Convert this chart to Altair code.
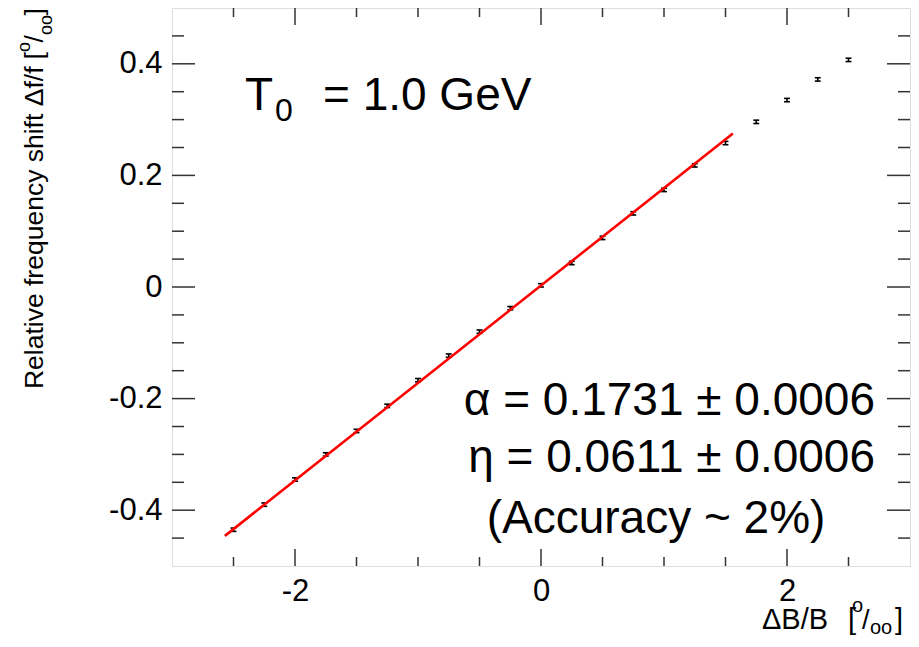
import altair as alt
import pandas as pd

# ---- data ----
x_vals = [-2.5, -2.25, -2.0, -1.75, -1.5, -1.25, -1.0, -0.75, -0.5, -0.25, 0.0,
          0.25, 0.5, 0.75, 1.0, 1.25, 1.5, 1.75, 2.0, 2.25, 2.5]
y_vals = [-0.435, -0.390, -0.345, -0.300, -0.258, -0.213, -0.167, -0.123, -0.080, -0.038, 0.003,
          0.043, 0.088, 0.132, 0.174, 0.218, 0.258, 0.296, 0.335, 0.372, 0.407]
y_err = [0.003, 0.003, 0.003, 0.003, 0.003, 0.003, 0.003, 0.003, 0.003, 0.003, 0.003,
         0.003, 0.003, 0.003, 0.003, 0.003, 0.003, 0.003, 0.003, 0.003, 0.003]
fit_x = [-2.57, 1.56]
fit_y = [-0.446, 0.275]

x_major = [-2, 0, 2]
x_minor = [-2.5, -1.5, -1.0, -0.5, 0.5, 1.0, 1.5, 2.5]
y_major = [-0.4, -0.2, 0, 0.2, 0.4]
y_minor = [-0.45, -0.35, -0.3, -0.25, -0.15, -0.1, -0.05, 0.05, 0.1, 0.15, 0.25, 0.3, 0.35, 0.45]

x_title_parts = ["ΔB/B", "[", "o", "/", "oo", "]"]
y_title_parts = ["Relative frequency shift Δf/f", "[", "o", "/", "oo", "]"]
t_main = ["T"]
t_sub = ["0"]
t_rest = ["= 1.0 GeV"]
stats = ["α = 0.1731 ± 0.0006", "η = 0.0611 ± 0.0006"]
accuracy = ["(Accuracy ~ 2%)"]

W, H = 738, 558
FONT = "Liberation Sans"
FRAME = "#333333"

xs = alt.Scale(domain=[-3, 3], nice=False, zero=False)
ys = alt.Scale(domain=[-0.5, 0.5], nice=False, zero=False)

pts = pd.DataFrame({"x": x_vals, "y": y_vals, "e": y_err})

xaxis = alt.Axis(values=x_major, labelExpr="'' + datum.value", labelFont=FONT, labelFontSize=31,
                 labelColor="#000000", labelPadding=10, ticks=False, domain=False, grid=False,
                 title=None)
yaxis = alt.Axis(values=y_major, labelExpr="'' + datum.value", labelFont=FONT, labelFontSize=31,
                 labelColor="#000000", labelPadding=10, ticks=False, domain=False, grid=False,
                 title=None)

base = alt.Chart(pts).transform_calculate(
    lo="datum.y - datum.e", hi="datum.y + datum.e",
    xl="datum.x - 0.024", xr="datum.x + 0.024"
)

err_v = base.mark_rule(color="#000000", strokeWidth=1.6).encode(
    x=alt.X("x:Q", scale=xs, axis=xaxis),
    y=alt.Y("lo:Q", scale=ys, axis=yaxis),
    y2="hi:Q",
)
cap_lo = base.mark_rule(color="#000000", strokeWidth=1.6).encode(
    x=alt.X("xl:Q", scale=xs, axis=xaxis), x2="xr:Q",
    y=alt.Y("lo:Q", scale=ys, axis=yaxis),
)
cap_hi = base.mark_rule(color="#000000", strokeWidth=1.6).encode(
    x=alt.X("xl:Q", scale=xs, axis=xaxis), x2="xr:Q",
    y=alt.Y("hi:Q", scale=ys, axis=yaxis),
)

fit = alt.Chart(pd.DataFrame({"x": fit_x, "y": fit_y})).mark_line(
    color="#ff0000", strokeWidth=2.6
).encode(
    x=alt.X("x:Q", scale=xs, axis=xaxis),
    y=alt.Y("y:Q", scale=ys, axis=yaxis),
)

def yticks(vals, length):
    d = alt.Chart(pd.DataFrame({"v": vals}))
    left = d.mark_rule(color=FRAME, strokeWidth=1.5).encode(
        y=alt.Y("v:Q", scale=ys, axis=yaxis), x=alt.value(0), x2=alt.value(length))
    right = d.mark_rule(color=FRAME, strokeWidth=1.5).encode(
        y=alt.Y("v:Q", scale=ys, axis=yaxis), x=alt.value(W), x2=alt.value(W - length))
    return left + right

def xticks(vals, length):
    d = alt.Chart(pd.DataFrame({"v": vals}))
    bottom = d.mark_rule(color=FRAME, strokeWidth=1.5).encode(
        x=alt.X("v:Q", scale=xs, axis=xaxis), y=alt.value(H), y2=alt.value(H - length))
    top = d.mark_rule(color=FRAME, strokeWidth=1.5).encode(
        x=alt.X("v:Q", scale=xs, axis=xaxis), y=alt.value(0), y2=alt.value(length))
    return bottom + top

def label(texts, x, y, size, align="left", angle=0):
    return alt.Chart(pd.DataFrame({"t": texts})).mark_text(
        font=FONT, fontSize=size, color="#000000", align=align, baseline="alphabetic", angle=angle
    ).encode(text="t:N", x=alt.value(x), y=alt.value(y))

texts = (
    label(t_main, 73, 102, 46)
    + label(t_sub, 103, 113, 32)
    + label(t_rest, 151, 102, 46)
    + label([stats[0]], 703, 407, 46, "right")
    + label([stats[1]], 703, 464, 46, "right")
    + label(accuracy, 484, 525, 46, "center")
    # x-axis title pieces
    + label([x_title_parts[0]], 590, 621, 29)
    + label([x_title_parts[1]], 676, 621, 29)
    + label([x_title_parts[2]], 680, 604, 20)
    + label([x_title_parts[3]], 690, 621, 27)
    + label([x_title_parts[4]], 698, 626, 20)
    + label([x_title_parts[5]], 723, 621, 29)
    # y-axis title pieces (rotated, reading upwards)
    + label([y_title_parts[0]], -129, 58.5, 26.5, "right", 270)
    + label([y_title_parts[1]], -129, 44, 26.5, "right", 270)
    + label([y_title_parts[2]], -142, 34, 18, "right", 270)
    + label([y_title_parts[3]], -129, 27, 26.5, "right", 270)
    + label([y_title_parts[4]], -120, 7, 18, "right", 270)
    + label([y_title_parts[5]], -129, 0, 26.5, "right", 270)
)

chart = alt.layer(
    err_v, cap_lo, cap_hi,
    yticks(y_major, 23), yticks(y_minor, 12),
    xticks(x_major, 17), xticks(x_minor, 9),
    fit, texts,
).properties(
    width=W, height=H,
    autosize=alt.AutoSizeParams(type="none"),
    padding={"left": 164, "top": 0, "right": 1, "bottom": 72},
).configure_view(
    stroke=FRAME, strokeWidth=1.6
).configure(background="#ffffff")

chart.save("out.html", embed_options={"renderer": "svg", "actions": False})
